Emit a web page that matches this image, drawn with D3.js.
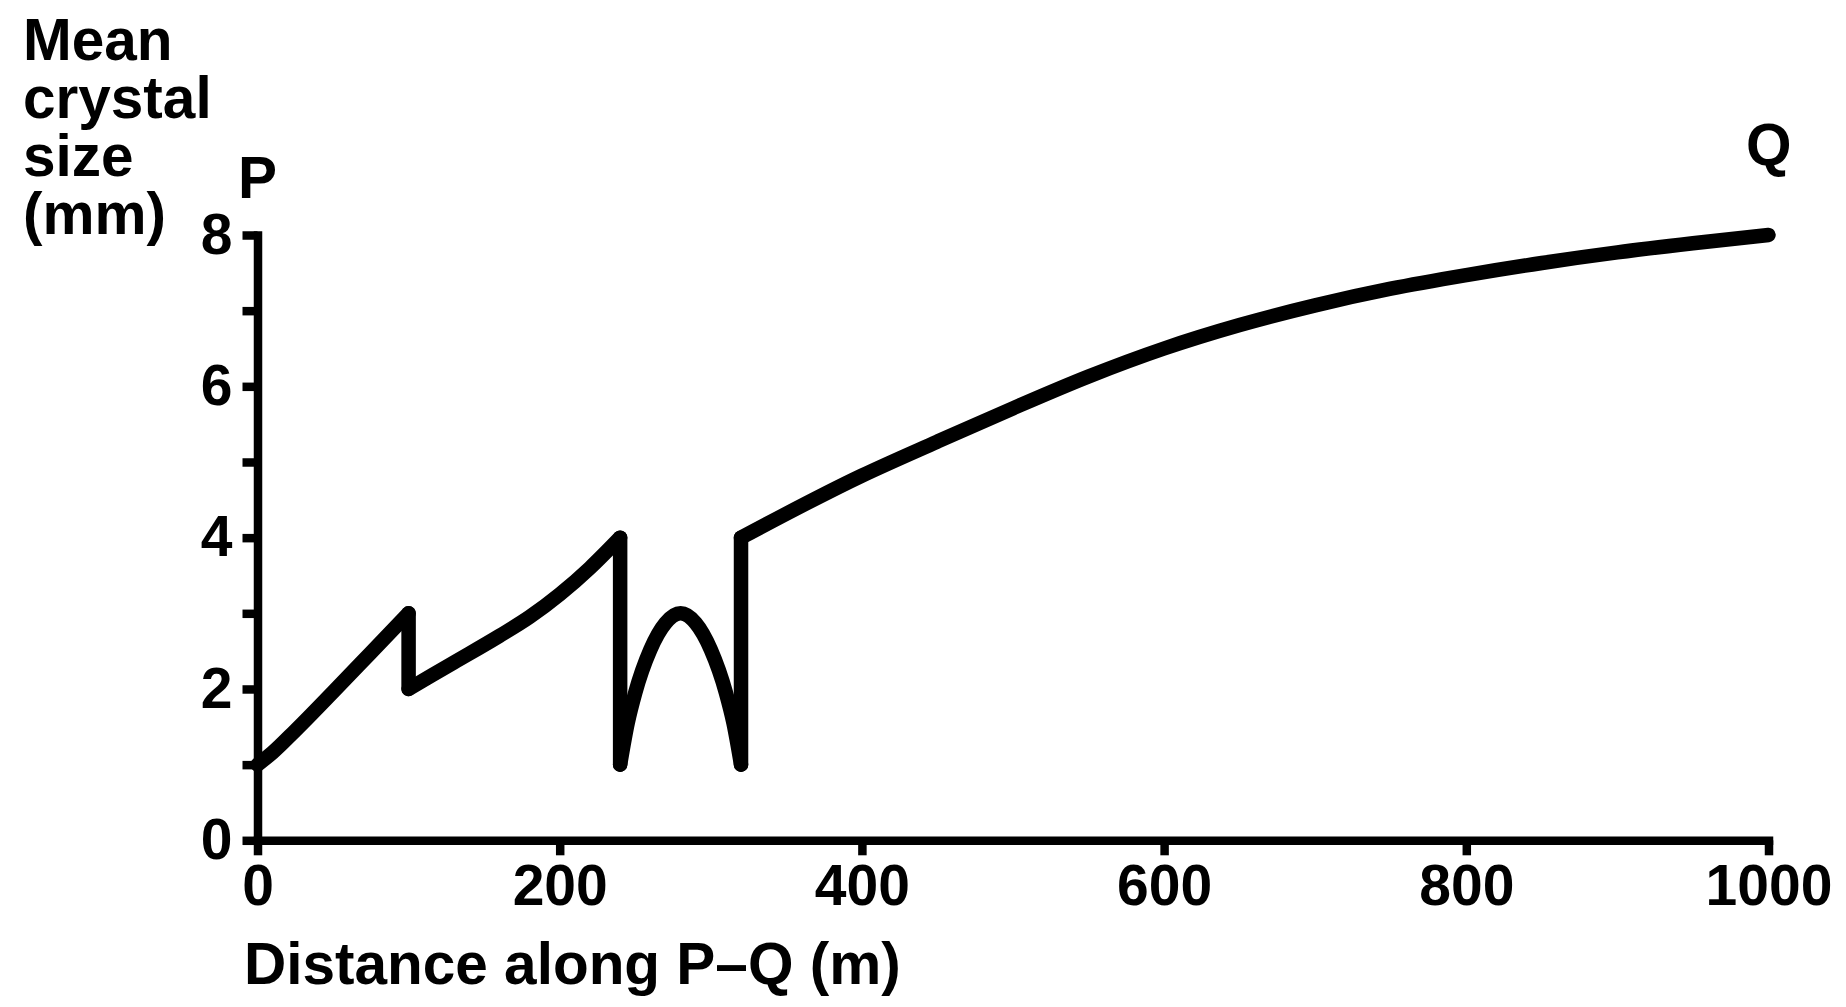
<!DOCTYPE html>
<html><head><meta charset="utf-8">
<script src="https://cdn.jsdelivr.net/npm/d3@7"></script>
<style>
body{margin:0;background:#fff}
text{font-family:"Liberation Sans",Arial,Helvetica,sans-serif;font-weight:bold;fill:#000}
</style>
</head><body>
<svg id="c" width="1846" height="1007"></svg>
<script>
// ---- data ----
const xTickValues = [0, 200, 400, 600, 800, 1000];
const yTickValues = [0, 1, 2, 3, 4, 5, 6, 7, 8];
const yLabelValues = [0, 2, 4, 6, 8];
const yTitleLines = ["Mean", "crystal", "size", "(mm)"];
const xTitle = "Distance along P\u2013Q (m)";
const endLabels = ["P", "Q"];

// smooth pieces of the profile
const seg1X = [0, 10, 25, 50, 75, 100];
const seg1Y = [1, 1.16, 1.45, 1.96, 2.48, 3];
const seg2X = [100, 130, 160, 180, 200, 220, 240];
const seg2Y = [2, 2.35, 2.7, 2.95, 3.25, 3.6, 4];
const seg3X = [240, 245, 250, 260, 270, 280, 290, 300, 310, 315, 320];
const seg3Y = [1, 1.55, 1.95, 2.52, 2.87, 3, 2.87, 2.52, 1.95, 1.55, 1];
const seg4X = [320, 400, 450, 500, 550, 600, 650, 700, 750, 800, 850, 900, 950, 1000];
const seg4Y = [4, 4.82, 5.27, 5.71, 6.13, 6.5, 6.81, 7.07, 7.29, 7.47, 7.63, 7.77, 7.89, 8];
// abrupt jumps (vertical steps)
const jumpX = [100, 240, 320];
const jumpFrom = [3, 4, 1];
const jumpTo = [2, 1, 4];

// ---- drawing ----
const svg = d3.select("#c");
svg.append("rect").attr("width", 1846).attr("height", 1007).attr("fill", "#fff");

const x = d3.scaleLinear().domain([0, 1000]).range([257.5, 1768.5]);
const y = d3.scaleLinear().domain([0, 8]).range([840.3, 235]);

const FS = 57;
const FT = 58.5;
const AXW = 8.5;

// y axis
const gy = svg.append("g").attr("transform", `translate(${x(0)},0)`)
  .call(d3.axisLeft(y).tickValues(yTickValues).tickSize(15).tickSizeOuter(0).tickPadding(10)
    .tickFormat(d => yLabelValues.includes(d) ? d : ""));
// x axis
const gx = svg.append("g").attr("transform", `translate(0,${y(0)})`)
  .call(d3.axisBottom(x).tickValues(xTickValues).tickSize(15).tickSizeOuter(0).tickPadding(9)
    .tickFormat(d => d));

[gy, gx].forEach(g => {
  g.select(".domain").attr("stroke", "#000").attr("stroke-width", AXW).attr("stroke-linecap", "square");
  g.selectAll(".tick line").attr("stroke", "#000").attr("stroke-width", AXW);
  g.selectAll(".tick text").style("font-size", FS + "px").attr("fill", "#000");
});

// profile line
const line = d3.line().x(d => x(d[0])).y(d => y(d[1])).curve(d3.curveMonotoneX);
const segs = [[seg1X, seg1Y], [seg2X, seg2Y], [seg3X, seg3Y], [seg4X, seg4Y]];
const lg = svg.append("g").attr("fill", "none").attr("stroke", "#000")
  .attr("stroke-width", 14.5).attr("stroke-linecap", "round").attr("stroke-linejoin", "round");
segs.forEach(([xs, ys]) => {
  lg.append("path").attr("d", line(xs.map((v, i) => [v, ys[i]])));
});
const lin = d3.line().x(d => x(d[0])).y(d => y(d[1]));
jumpX.forEach((v, i) => {
  lg.append("path").attr("d", lin([[v, jumpFrom[i]], [v, jumpTo[i]]]));
});

// titles
const yt = svg.append("text").style("font-size", FT + "px").attr("x", 23);
yTitleLines.forEach((t, i) => {
  yt.append("tspan").attr("x", 23).attr("y", 60 + i * 58).text(t);
});
svg.append("text").style("font-size", FT + "px").attr("x", 244).attr("y", 984).text(xTitle);
svg.append("text").style("font-size", FT + "px").attr("x", 238).attr("y", 198).text(endLabels[0]);
svg.append("text").style("font-size", FT + "px").attr("x", 1746).attr("y", 165).text(endLabels[1]);
</script>
</body></html>
